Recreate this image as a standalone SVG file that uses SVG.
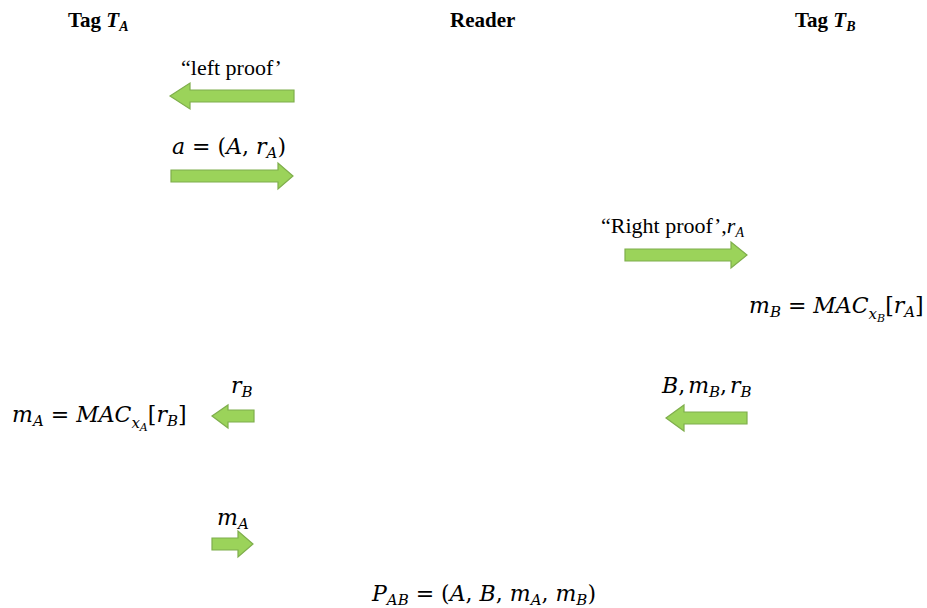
<svg xmlns="http://www.w3.org/2000/svg" width="927" height="608" viewBox="0 0 927 608">
<style>
.hdr{font-family:"Liberation Serif","Times New Roman",serif;font-weight:bold;font-size:21px;fill:#000}
.txt{font-family:"Liberation Serif","Times New Roman",serif;font-size:22px;fill:#000}
.m{font-family:"DejaVu Serif","Liberation Serif",serif;font-style:italic;font-size:22px;fill:#000}
.mu{font-style:normal}
.s{font-size:15px}
.ss{font-size:11px}
.arr{fill:#9bd35a;stroke:#7fae4c;stroke-width:1.2}
</style>
<rect width="927" height="608" fill="#fff"/>
<g id="tagA"><text class="hdr" x="68" y="27">Tag <tspan font-style="italic">T</tspan><tspan font-style="italic" font-size="14" dy="4">A</tspan></text></g>
<g id="reader"><text class="hdr" x="450" y="27">Reader</text></g>
<g id="tagB"><text class="hdr" x="795" y="27">Tag <tspan font-style="italic">T</tspan><tspan font-style="italic" font-size="14" dy="4">B</tspan></text></g>

<g id="connectors">
<g id="msg1"><polygon class="arr" points="170,96 190,83 190,90 294,90 294,102 190,102 190,109"/></g>
<g id="msg2"><polygon class="arr" points="171,170 278,170 278,163 293,176 278,189 278,182 171,182"/></g>
<g id="msg3"><polygon class="arr" points="625,249 731,249 731,242 747,255 731,268 731,261 625,261"/></g>
<g id="msg4"><polygon class="arr" points="212,416 228,405 228,410 254,410 254,422 228,422 228,428"/></g>
<g id="msg5"><polygon class="arr" points="666,418 684,405 684,412 747,412 747,424 684,424 684,431"/></g>
<g id="msg6"><polygon class="arr" points="212,538 238,538 238,531 253,544 238,557 238,550 212,550"/></g>
</g>

<g id="lbl1"><text class="txt" x="181" y="75">“left proof’</text></g>
<g id="lbl2"><text class="m" x="172" y="154">a<tspan class="mu"> = (</tspan>A<tspan class="mu">, </tspan>r<tspan class="s" dy="4">A</tspan><tspan class="mu" dy="-4">)</tspan></text></g>
<g id="lbl3"><text class="txt" x="601" y="233">“Right proof’,<tspan font-style="italic">r</tspan><tspan font-style="italic" font-size="14" dy="4">A</tspan></text></g>
<g id="calcB"><text class="m" x="749" y="313">m<tspan class="s" dy="4">B</tspan><tspan class="mu" dy="-4"> = </tspan>MAC<tspan class="s" dy="6">x</tspan><tspan class="ss" dy="3">B</tspan><tspan class="mu" dy="-9">[</tspan>r<tspan class="s" dy="4">A</tspan><tspan class="mu" dy="-4">]</tspan></text></g>
<g id="lbl4"><text class="m" x="231" y="393">r<tspan class="s" dy="4">B</tspan></text></g>
<g id="calcA"><text class="m" x="12" y="422">m<tspan class="s" dy="4">A</tspan><tspan class="mu" dy="-4"> = </tspan>MAC<tspan class="s" dy="6">x</tspan><tspan class="ss" dy="3">A</tspan><tspan class="mu" dy="-9">[</tspan>r<tspan class="s" dy="4">B</tspan><tspan class="mu" dy="-4">]</tspan></text></g>
<g id="lbl5"><text class="m" x="662" y="393">B<tspan class="mu">,</tspan><tspan dx="3">m</tspan><tspan class="s" dy="4">B</tspan><tspan class="mu" dy="-4">,</tspan><tspan dx="3">r</tspan><tspan class="s" dy="4">B</tspan></text></g>
<g id="lbl6"><text class="m" x="217" y="525">m<tspan class="s" dy="4">A</tspan></text></g>
<g id="result"><text class="m" x="372" y="601">P<tspan class="s" dy="4">AB</tspan><tspan class="mu" dy="-4"> = (</tspan>A<tspan class="mu">, </tspan>B<tspan class="mu">, </tspan>m<tspan class="s" dy="4">A</tspan><tspan class="mu" dy="-4">, </tspan>m<tspan class="s" dy="4">B</tspan><tspan class="mu" dy="-4">)</tspan></text></g>
</svg>
